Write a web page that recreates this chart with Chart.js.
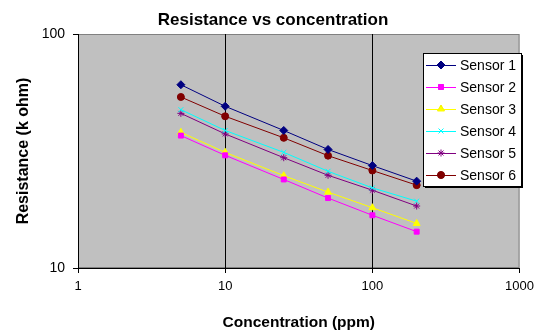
<!DOCTYPE html>
<html>
<head>
<meta charset="utf-8">
<script src="https://cdn.jsdelivr.net/npm/chart.js@4"></script>
<style>
  body { margin: 0; background: #fff; }
</style>
</head>
<body>
<canvas id="chart" width="540" height="332"></canvas>
<script>
// data
const concentration = [5, 10, 25, 50, 100, 200];
const sensor1 = [60.7, 49.1, 38.7, 32.1, 27.4, 23.5];
const sensor2 = [36.8, 30.3, 23.9, 19.9, 16.8, 14.3];
const sensor3 = [38.0, 31.2, 24.8, 21.1, 18.1, 15.5];
const sensor4 = [47.5, 38.7, 31.2, 25.9, 22.0, 19.3];
const sensor5 = [45.8, 37.4, 29.6, 24.9, 21.5, 18.4];
const sensor6 = [53.8, 44.5, 36.0, 30.2, 26.1, 22.6];
const xTicks = [1, 10, 100, 1000];
const yTicks = [10, 100];

const chartTitle = "Resistance vs concentration";
const font = "'Liberation Sans', Arial, sans-serif";

function points(values) {
    return values.map((v, i) => ({ x: concentration[i], y: v }));
}

function series(label, values, color, style, size) {
    return {
        label: label,
        data: points(values),
        borderColor: color,
        backgroundColor: color,
        borderWidth: 1,
        pointStyle: style,
        pointRadius: size,
        pointBorderWidth: 1,
        pointBorderColor: color,
        pointBackgroundColor: color,
        tension: 0
    };
}

// grey plot area behind everything
const plotArea = {
    id: "plotArea",
    beforeDraw(chart) {
        const a = chart.chartArea;
        const ctx = chart.ctx;
        ctx.save();
        ctx.fillStyle = "#c0c0c0";
        ctx.fillRect(a.left, a.top, a.right - a.left, a.bottom - a.top);
        ctx.strokeStyle = "#808080";
        ctx.lineWidth = 1;
        ctx.strokeRect(a.left + 0.5, a.top + 0.5, a.right - a.left - 1, a.bottom - a.top - 1);
        ctx.restore();
    }
};

// title a bit right of the canvas centre, like the original
const topTitle = {
    id: "topTitle",
    afterDraw(chart) {
        const ctx = chart.ctx;
        ctx.save();
        ctx.font = "bold 17px " + font;
        ctx.fillStyle = "#000";
        ctx.textAlign = "center";
        ctx.textBaseline = "middle";
        ctx.fillText(chartTitle, 273, 20);
        ctx.restore();
    }
};

// legend box drawn inside the plot like the excel one
const boxLegend = {
    id: "boxLegend",
    afterDraw(chart) {
        const ctx = chart.ctx;
        const x = 423, y = 53, w = 98, h = 133;
        ctx.save();
        ctx.fillStyle = "#000";
        ctx.fillRect(x + 2, y + 2, w, h);
        ctx.fillStyle = "#fff";
        ctx.fillRect(x, y, w, h);
        ctx.strokeStyle = "#000";
        ctx.lineWidth = 1;
        ctx.strokeRect(x + 0.5, y + 0.5, w, h);
        ctx.font = "14px " + font;
        ctx.textBaseline = "middle";
        chart.data.datasets.forEach((ds, i) => {
            const cy = y + 12 + i * 22;
            ctx.strokeStyle = ds.borderColor;
            ctx.beginPath();
            ctx.moveTo(426, cy + 0.5);
            ctx.lineTo(456, cy + 0.5);
            ctx.stroke();
            Chart.helpers.drawPoint(ctx, {
                pointStyle: ds.pointStyle,
                radius: ds.pointRadius,
                borderWidth: 1,
                rotation: 0
            }, 441, cy);
            ctx.fillStyle = ds.pointBackgroundColor;
            ctx.fill();
            ctx.fillStyle = "#000";
            ctx.fillText(ds.label, 460, cy + 1);
        });
        ctx.restore();
    }
};

new Chart(document.getElementById("chart"), {
    type: "line",
    data: {
        datasets: [
            series("Sensor 1", sensor1, "#000080", "rectRot", 4),
            series("Sensor 2", sensor2, "#ff00ff", "rect", 3.5),
            series("Sensor 3", sensor3, "#ffff00", "triangle", 4),
            series("Sensor 4", sensor4, "#00ffff", "crossRot", 3.5),
            series("Sensor 5", sensor5, "#800080", "star", 3.5),
            series("Sensor 6", sensor6, "#800000", "circle", 3.5)
        ]
    },
    options: {
        responsive: false,
        animation: false,
        layout: { padding: { left: 0, right: 17, top: 34, bottom: 0 } },
        plugins: {
            legend: { display: false },
            tooltip: { enabled: false },
            title: { display: false }
        },
        scales: {
            x: {
                type: "logarithmic",
                min: 1,
                max: 1000,
                afterBuildTicks: (s) => { s.ticks = xTicks.map(v => ({ value: v })); },
                afterFit: (s) => { s.height = 64; },
                ticks: {
                    color: "#000",
                    font: { family: font, size: 13 },
                    padding: 6,
                    maxRotation: 0,
                    callback: (v) => String(v)
                },
                grid: {
                    color: (c) => (c.tick && (c.tick.value === 10 || c.tick.value === 100)) ? "#000" : "rgba(0,0,0,0)",
                    tickColor: "#000",
                    tickLength: 5,
                    lineWidth: 1
                },
                border: { display: true, color: "#000" },
                title: {
                    display: true,
                    text: "Concentration (ppm)",
                    color: "#000",
                    font: { family: font, size: 15.5, weight: "bold" },
                    padding: { top: 0, bottom: 0 }
                }
            },
            y: {
                type: "logarithmic",
                min: 10,
                max: 100,
                afterBuildTicks: (s) => { s.ticks = yTicks.map(v => ({ value: v })); },
                afterFit: (s) => { s.width = 78; },
                ticks: {
                    color: "#000",
                    font: { family: font, size: 14 },
                    padding: 8,
                    callback: (v) => String(v)
                },
                grid: {
                    drawOnChartArea: false,
                    tickColor: "#000",
                    tickLength: 5
                },
                border: { display: true, color: "#000" },
                title: {
                    display: true,
                    text: "Resistance (k ohm)",
                    color: "#000",
                    font: { family: font, size: 16, weight: "bold" },
                    padding: { top: 14, bottom: 0 }
                }
            }
        }
    },
    plugins: [plotArea, topTitle, boxLegend]
});
</script>
</body>
</html>
